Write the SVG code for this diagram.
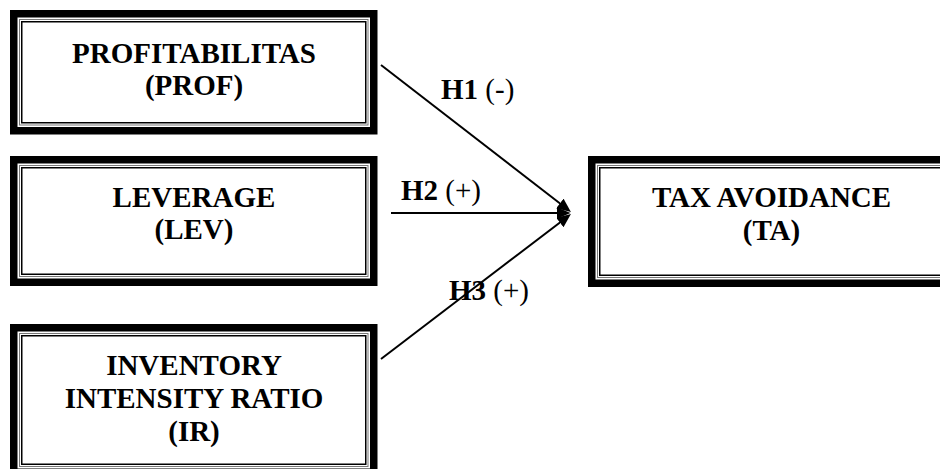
<svg xmlns="http://www.w3.org/2000/svg" width="940" height="469" viewBox="0 0 940 469">
<style>
.thick{fill:none;stroke:#000;stroke-width:7.5}
.gray{fill:none;stroke:#777;stroke-width:1}
.thin{fill:none;stroke:#000;stroke-width:1.5}
.t{font-family:"Liberation Serif","Times New Roman",serif;font-size:29px;font-weight:bold;fill:#000;text-anchor:middle}
.lbl{font-family:"Liberation Serif","Times New Roman",serif;font-size:29px;font-weight:bold;fill:#000}
.lbl .r{font-weight:normal}
.conn{stroke:#000;stroke-width:2;fill:none;marker-end:url(#ah)}
</style>
<defs>
<marker id="ah" markerUnits="userSpaceOnUse" markerWidth="16" markerHeight="14" refX="8" refY="6" orient="auto">
<path d="M0,0 L14,6 L0,12 z" fill="#000"/>
</marker>
</defs>
<rect width="940" height="469" fill="#fff"/>
<g id="prof">
<rect class="thick" x="13.75" y="13.75" width="360" height="117"/>
<rect class="gray" x="19.5" y="19.5" width="348.5" height="105.5"/>
<rect class="thin" x="21.75" y="21.75" width="344" height="101"/>
<text class="t" x="194" y="63">PROFITABILITAS</text>
<text class="t" x="194" y="95">(PROF)</text>
</g>
<g id="lev">
<rect class="thick" x="13.75" y="159.75" width="360" height="122.5"/>
<rect class="gray" x="19.5" y="165.5" width="348.5" height="111"/>
<rect class="thin" x="21.75" y="167.75" width="344" height="106.5"/>
<text class="t" x="194" y="206.5">LEVERAGE</text>
<text class="t" x="194" y="239">(LEV)</text>
</g>
<g id="ir">
<rect class="thick" x="13.75" y="327.75" width="360" height="144.5"/>
<rect class="gray" x="19.5" y="333.5" width="348.5" height="133"/>
<rect class="thin" x="21.75" y="335.75" width="344" height="128.5"/>
<text class="t" x="194" y="375">INVENTORY</text>
<text class="t" x="194" y="408">INTENSITY RATIO</text>
<text class="t" x="194" y="441">(IR)</text>
</g>
<g id="ta">
<rect class="thick" x="591.75" y="159.75" width="359.5" height="123.5"/>
<rect class="gray" x="597.5" y="165.5" width="348" height="112"/>
<rect class="thin" x="599.75" y="167.75" width="343.5" height="107.5"/>
<text class="t" x="771.5" y="206.5">TAX AVOIDANCE</text>
<text class="t" x="771.5" y="240">(TA)</text>
</g>
<g id="connectors">
<line class="conn" x1="381" y1="65" x2="566.2" y2="208.3"/>
<line class="conn" x1="391" y1="213" x2="564.5" y2="213"/>
<line class="conn" x1="381" y1="359" x2="566.2" y2="217.7"/>
<text class="lbl" x="441" y="99">H1 <tspan class="r">(-)</tspan></text>
<text class="lbl" x="401" y="200">H2 <tspan class="r">(+)</tspan></text>
<text class="lbl" x="449" y="300">H3 <tspan class="r">(+)</tspan></text>
</g>
</svg>
